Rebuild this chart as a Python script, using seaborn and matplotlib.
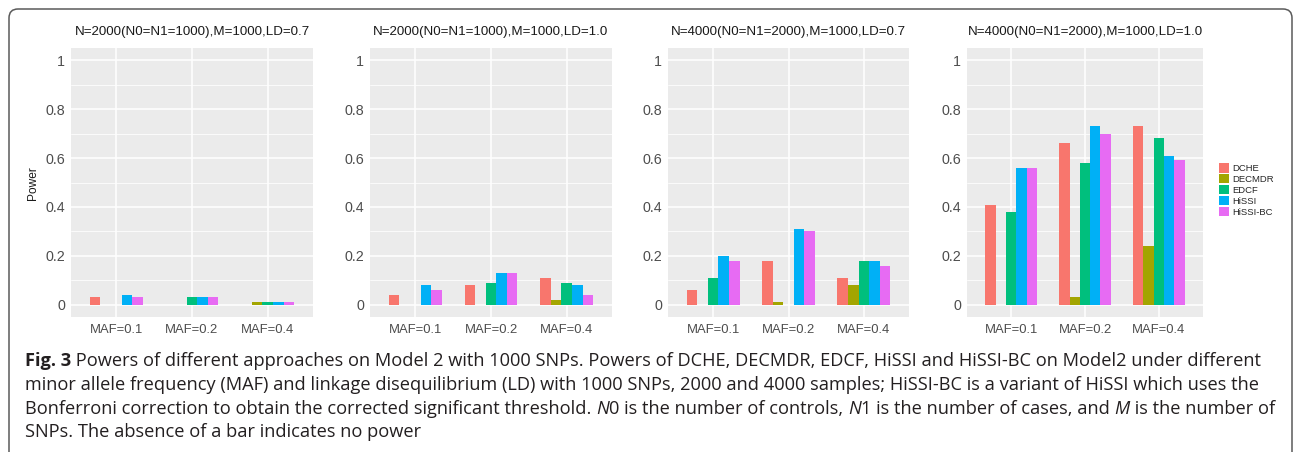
import numpy as np
import pandas as pd
import matplotlib
matplotlib.use("Agg")
import matplotlib.pyplot as plt
import seaborn as sns
from matplotlib.path import Path
from matplotlib.patches import PathPatch, Patch
from matplotlib.ticker import FixedLocator

# ---------------- data ----------------
methods = ["DCHE", "DECMDR", "EDCF", "HiSSI", "HiSSI-BC"]
mafs = ["MAF=0.1", "MAF=0.2", "MAF=0.4"]
titles = [
    "N=2000(N0=N1=1000),M=1000,LD=0.7",
    "N=2000(N0=N1=1000),M=1000,LD=1.0",
    "N=4000(N0=N1=2000),M=1000,LD=0.7",
    "N=4000(N0=N1=2000),M=1000,LD=1.0",
]
# rows: MAF, columns: methods (DCHE, DECMDR, EDCF, HiSSI, HiSSI-BC)
power_n2000_ld07 = [[0.03, 0.00, 0.00, 0.04, 0.03],
                    [0.00, 0.00, 0.03, 0.03, 0.03],
                    [0.00, 0.01, 0.01, 0.01, 0.01]]
power_n2000_ld10 = [[0.04, 0.00, 0.00, 0.08, 0.06],
                    [0.08, 0.00, 0.09, 0.13, 0.13],
                    [0.11, 0.02, 0.09, 0.08, 0.04]]
power_n4000_ld07 = [[0.06, 0.00, 0.11, 0.20, 0.18],
                    [0.18, 0.01, 0.00, 0.31, 0.30],
                    [0.11, 0.08, 0.18, 0.18, 0.16]]
power_n4000_ld10 = [[0.41, 0.00, 0.38, 0.56, 0.56],
                    [0.66, 0.03, 0.58, 0.73, 0.70],
                    [0.73, 0.24, 0.68, 0.61, 0.59]]
panels = [power_n2000_ld07, power_n2000_ld10, power_n4000_ld07, power_n4000_ld10]
y_ticks = [0, 0.2, 0.4, 0.6, 0.8, 1.0]
y_ticklabels = ["0", "0.2", "0.4", "0.6", "0.8", "1"]
colors = ["#F8766D", "#A3A500", "#00BF7D", "#00B0F6", "#E76BF3"]

caption_lines = [
    [("Fig. 3", "bold"), (" Powers of different approaches on Model 2 with 1000 SNPs. Powers of DCHE, DECMDR, EDCF, HiSSI and HiSSI-BC on Model2 under different", "normal")],
    [("minor allele frequency (MAF) and linkage disequilibrium (LD) with 1000 SNPs, 2000 and 4000 samples; HiSSI-BC is a variant of HiSSI which uses the", "normal")],
    [("Bonferroni correction to obtain the corrected significant threshold. ", "normal"), ("N", "italic"), ("0 is the number of controls, ", "normal"),
     ("N", "italic"), ("1 is the number of cases, and ", "normal"), ("M", "italic"), (" is the number of", "normal")],
    [("SNPs. The absence of a bar indicates no power", "normal")],
]

# ---------------- figure ----------------
W, H = 1295, 461
sns.set_theme(style="white")
plt.rcParams["font.family"] = ["Liberation Sans", "DejaVu Sans"]
fig = plt.figure(figsize=(W / 100, H / 100), dpi=100)

panel_x = [(71, 313), (370, 612), (668, 909), (967, 1203)]
top, bottom = 48, 317

for i, vals in enumerate(panels):
    rows = []
    for mi, maf in enumerate(mafs):
        for ki, m in enumerate(methods):
            rows.append({"MAF": maf, "Method": m, "Power": vals[mi][ki]})
    df = pd.DataFrame(rows)
    x0, x1 = panel_x[i]
    ax = fig.add_axes([x0 / W, 1 - bottom / H, (x1 - x0) / W, (bottom - top) / H])
    sns.barplot(data=df, x="MAF", y="Power", hue="Method", order=mafs,
                hue_order=methods, palette=colors, width=0.7, saturation=1,
                errorbar=None, legend=False, linewidth=0, ax=ax)
    ax.set_facecolor("#EBEBEB")
    ax.set_axisbelow(True)
    for s in ax.spines.values():
        s.set_visible(False)
    ax.set_xlim(-0.6, 2.6)
    ax.set_ylim(-0.05, 1.05)
    ax.set_yticks(y_ticks)
    ax.set_yticklabels(y_ticklabels)
    ax.yaxis.set_minor_locator(FixedLocator([0.1, 0.3, 0.5, 0.7, 0.9]))
    ax.grid(True, which="major", axis="both", color="white", lw=1.1)
    ax.grid(True, which="minor", axis="y", color="white", lw=0.55)
    ax.tick_params(axis="both", which="major", length=2.8, width=0.8,
                   color="#333333", labelcolor="#4D4D4D")
    ax.tick_params(axis="x", labelsize=9.4, pad=2.0)
    ax.tick_params(axis="y", labelsize=10.3, pad=1.5)
    ax.tick_params(which="minor", length=0)
    ax.set_xlabel("")
    ax.set_ylabel("")
    fig.text((x0 + x1) / 2 / W, 1 - 32 / H, titles[i], ha="center", va="center",
             fontsize=9.6, color="#1A1A1A")

fig.text(33 / W, 1 - 183 / H, "Power", rotation=90, ha="center", va="center",
         fontsize=8.6, color="#1A1A1A")

handles = [Patch(facecolor=c, edgecolor="none", label=m) for c, m in zip(colors, methods)]
fig.legend(handles=handles, loc="upper left", bbox_to_anchor=(1219 / W, 1 - 163.5 / H),
           frameon=False, fontsize=6.8, handlelength=1.1, handleheight=1.1,
           handletextpad=0.3, labelspacing=0.12, borderpad=0, borderaxespad=0)

# ---------------- rounded border (open at the bottom) ----------------
L, R, T, B, r = 9, 1292, 9, 452, 9
pts = [(L, B), (L, T + r), (L, T), (L + r, T), (R - r, T), (R, T), (R, T + r), (R, B)]
codes = [Path.MOVETO, Path.LINETO, Path.CURVE3, Path.CURVE3, Path.LINETO,
         Path.CURVE3, Path.CURVE3, Path.LINETO]
pts_f = [(x / W, 1 - y / H) for x, y in pts]
fig.patches.append(PathPatch(Path(pts_f, codes), transform=fig.transFigure,
                             fill=False, edgecolor="#5A5A5A", lw=1.1))

# ---------------- caption ----------------
renderer = fig.canvas.get_renderer()
cap_family = ["Open Sans", "DejaVu Sans"]


def style_kw(style, size):
    kw = dict(fontsize=size, family=cap_family)
    if style == "bold":
        kw["fontweight"] = "bold"
    elif style == "italic":
        kw["fontstyle"] = "italic"
    return kw


def advance(s, style, size):
    t = fig.text(0, 0, s + "|", **style_kw(style, size))
    w1 = t.get_window_extent(renderer).width
    t.remove()
    t = fig.text(0, 0, "|", **style_kw(style, size))
    w2 = t.get_window_extent(renderer).width
    t.remove()
    return w1 - w2


ref = 12.0
targets = [1238.0, 1230.0, 1245.0]
w_sum = sum(sum(advance(s, st, ref) for s, st in caption_lines[k]) for k in range(3))
cap_size = ref * (sum(targets) / w_sum)

baselines = [366, 390, 413.5, 437]
for line, yb in zip(caption_lines, baselines):
    x = 25.0
    for s, st in line:
        fig.text(x / W, 1 - yb / H, s, ha="left", va="baseline", color="#231F20",
                 **style_kw(st, cap_size))
        x += advance(s, st, cap_size)

fig.savefig("out.png", dpi=100)
